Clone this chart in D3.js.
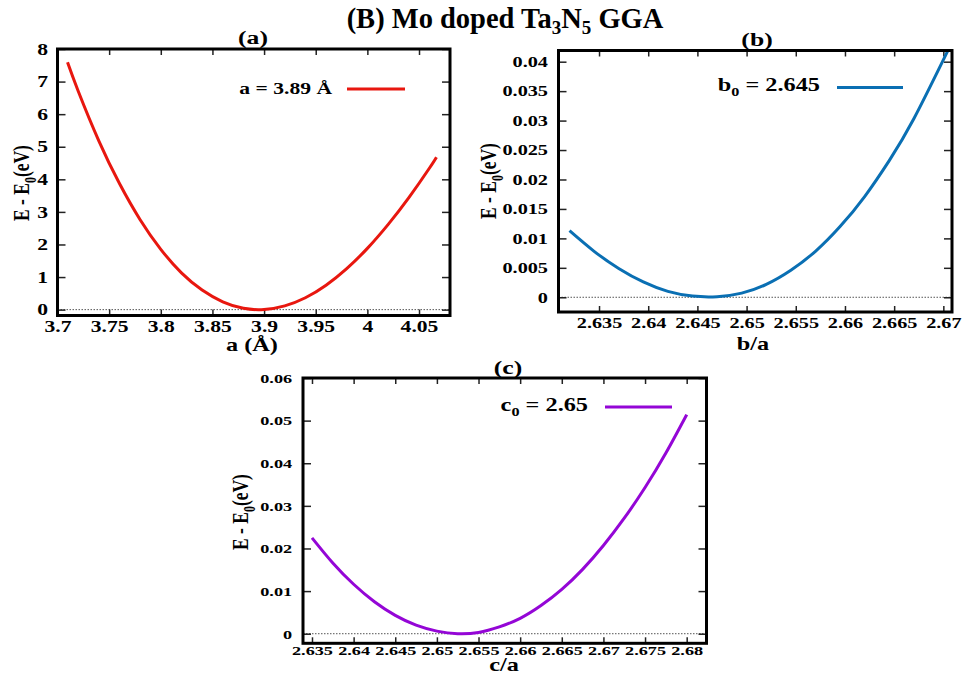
<!DOCTYPE html>
<html>
<head>
<meta charset="utf-8">
<script src="https://cdn.jsdelivr.net/npm/d3@7"></script>
<style>
  body { margin: 0; background: #fff; }
  text { font-family: "Liberation Serif", "Times New Roman", serif; font-weight: bold; fill: #000; }
</style>
</head>
<body>
<svg id="chart" width="966" height="677"></svg>
<script>
// values
const aX = [3.7097, 3.72, 3.74, 3.76, 3.78, 3.80, 3.82, 3.84, 3.86, 3.88, 3.90, 3.92, 3.94, 3.96, 3.98, 4.00, 4.02, 4.04, 4.06, 4.0669];
const aE = [7.59, 6.71, 5.18, 3.87, 2.76, 1.85, 1.13, 0.60, 0.24, 0.04, 0.005, 0.115, 0.365, 0.75, 1.26, 1.88, 2.61, 3.43, 4.34, 4.68];

const bX = [2.6320, 2.6345, 2.6370, 2.6395, 2.6420, 2.6445, 2.6470, 2.6495, 2.6520, 2.6545, 2.6570, 2.6595, 2.6620, 2.6645, 2.6670, 2.6705];
const bE = [0.0113, 0.0078, 0.0049, 0.0026, 0.0010, 0.0002, 0.0001, 0.0007, 0.0022, 0.0046, 0.0078, 0.0120, 0.0171, 0.0232, 0.0303, 0.0420];

const cX = [2.6350, 2.6375, 2.6400, 2.6425, 2.6450, 2.6475, 2.6500, 2.6525, 2.6550, 2.6575, 2.6600, 2.6625, 2.6650, 2.6675, 2.6700, 2.6725, 2.6750, 2.6775, 2.6800];
const cE = [0.0225, 0.0166, 0.0116, 0.0075, 0.0043, 0.0020, 0.0006, 0.0000, 0.0003, 0.0016, 0.0036, 0.0066, 0.0104, 0.0151, 0.0207, 0.0271, 0.0343, 0.0424, 0.0514];

const aXTicks = [3.7, 3.75, 3.8, 3.85, 3.9, 3.95, 4, 4.05];
const aYTicks = [0, 1, 2, 3, 4, 5, 6, 7, 8];
const bXTicks = [2.635, 2.64, 2.645, 2.65, 2.655, 2.66, 2.665, 2.67];
const bYTicks = [0, 0.005, 0.01, 0.015, 0.02, 0.025, 0.03, 0.035, 0.04];
const cXTicks = [2.635, 2.64, 2.645, 2.65, 2.655, 2.66, 2.665, 2.67, 2.675, 2.68];
const cYTicks = [0, 0.01, 0.02, 0.03, 0.04, 0.05, 0.06];

const SX = 1.35; // gnuplot panels look stretched sideways

const svg = d3.select("#chart");

// title
let title = svg.append("text")
    .attr("x", 505).attr("y", 28)
    .attr("text-anchor", "middle")
    .style("font-size", "28.5px");
title.append("tspan").text("(B) Mo doped Ta");
title.append("tspan").attr("dy", 6).style("font-size", "19px").text("3");
title.append("tspan").attr("dy", -6).text("N");
title.append("tspan").attr("dy", 6).style("font-size", "19px").text("5");
title.append("tspan").attr("dy", -6).text(" GGA");

let panels = [
    {
        xs: aX, ys: aE, color: "#e8170f",
        left: 57.5, right: 450, top: 49, bottom: 315.5,
        xDomain: [3.7, 4.08], yDomain: [-0.18, 8],
        xTicks: aXTicks, yTicks: aYTicks,
        fs: 16, xPad: 5, yPad: 7,
        tag: "(a)", tagX: 253, tagY: 44,
        xLabel: "a  (Å)", xLabelX: 252, xLabelY: 351,
        yLabelX: 29, yLabelY: 183,
        legend: ["a = 3.89 Å", null], legX: 332, legY: 94, legLine: [347, 405], legLineY: 89
    },
    {
        xs: bX, ys: bE, color: "#0a6fb3",
        left: 558.5, right: 952, top: 50.5, bottom: 312,
        xDomain: [2.63088, 2.67088], yDomain: [-0.0025, 0.0419],
        xTicks: bXTicks, yTicks: bYTicks,
        fs: 15, xPad: 5.4, yPad: 7.8,
        tag: "(b)", tagX: 757, tagY: 46,
        xLabel: "b/a", xLabelX: 753, xLabelY: 350,
        yLabelX: 496, yLabelY: 181,
        legend: ["b", "0", " = 2.645"], legX: 820, legY: 91, legLine: [837, 903], legLineY: 87.5
    },
    {
        xs: cX, ys: cE, color: "#9406d6",
        left: 303, right: 706.5, top: 378, bottom: 643.3,
        xDomain: [2.63392, 2.68238], yDomain: [-0.00225, 0.06],
        xTicks: cXTicks, yTicks: cYTicks,
        fs: 13.5, xPad: 2.5, yPad: 8.1,
        tag: "(c)", tagX: 508, tagY: 374,
        xLabel: "c/a", xLabelX: 504, xLabelY: 671,
        yLabelX: 248, yLabelY: 512,
        legend: ["c", "0", " = 2.65"], legX: 588, legY: 411, legLine: [605, 672], legLineY: 407
    }
];

panels.forEach(function(p) {
    let x = d3.scaleLinear().domain(p.xDomain).range([p.left, p.right]);
    let y = d3.scaleLinear().domain(p.yDomain).range([p.bottom, p.top]);
    let g = svg.append("g");

    // dotted zero line
    g.append("line")
        .attr("x1", p.left).attr("x2", p.right)
        .attr("y1", y(0)).attr("y2", y(0))
        .attr("stroke", "#555")
        .attr("stroke-width", 1)
        .attr("stroke-dasharray", "1.5,1.5");

    let fmt = d => String(d);

    // bottom + left with labels, top + right mirrored ticks only
    let bottomAxis = g.append("g")
        .attr("transform", "translate(0," + p.bottom + ")")
        .call(d3.axisBottom(x).tickValues(p.xTicks).tickSizeInner(-6).tickSizeOuter(0).tickPadding(p.xPad).tickFormat(fmt));
    let leftAxis = g.append("g")
        .attr("transform", "translate(" + p.left + ",0)")
        .call(d3.axisLeft(y).tickValues(p.yTicks).tickSizeInner(-8).tickSizeOuter(0).tickPadding(p.yPad).tickFormat(fmt));
    let topAxis = g.append("g")
        .attr("transform", "translate(0," + p.top + ")")
        .call(d3.axisTop(x).tickValues(p.xTicks).tickSizeInner(-6).tickSizeOuter(0).tickFormat(""));
    let rightAxis = g.append("g")
        .attr("transform", "translate(" + p.right + ",0)")
        .call(d3.axisRight(y).tickValues(p.yTicks).tickSizeInner(-8).tickSizeOuter(0).tickFormat(""));

    [bottomAxis, leftAxis, topAxis, rightAxis].forEach(function(ax) {
        ax.attr("font-family", null).attr("font-size", null);
        ax.select(".domain").remove();
        ax.selectAll(".tick line").attr("stroke", "#222").attr("stroke-width", 1.5);
    });
    topAxis.selectAll(".tick text").remove();
    rightAxis.selectAll(".tick text").remove();
    [bottomAxis, leftAxis].forEach(function(ax) {
        ax.selectAll(".tick text")
            .style("font-size", p.fs + "px")
            .attr("fill", "#000")
            .attr("transform", "scale(" + SX + ",1)");
    });

    // curve
    let line = d3.line()
        .x(d => x(d[0]))
        .y(d => y(d[1]))
        .curve(d3.curveNatural);
    g.append("path")
        .datum(p.xs.map((v, i) => [v, p.ys[i]]))
        .attr("d", line)
        .attr("fill", "none")
        .attr("stroke", p.color)
        .attr("stroke-width", 3);

    // frame
    g.append("rect")
        .attr("x", p.left).attr("y", p.top)
        .attr("width", p.right - p.left).attr("height", p.bottom - p.top)
        .attr("fill", "none")
        .attr("stroke", "#000")
        .attr("stroke-width", 3);

    // panel tag
    g.append("text")
        .attr("transform", "translate(" + p.tagX + "," + p.tagY + ") scale(" + SX + ",1)")
        .attr("text-anchor", "middle")
        .style("font-size", "19px")
        .text(p.tag);

    // x label
    g.append("text")
        .attr("transform", "translate(" + p.xLabelX + "," + p.xLabelY + ") scale(" + SX + ",1)")
        .attr("text-anchor", "middle")
        .style("font-size", "18px")
        .text(p.xLabel);

    // y label
    let yl = g.append("text")
        .attr("transform", "translate(" + p.yLabelX + "," + p.yLabelY + ") scale(" + SX + ",1) rotate(-90)")
        .attr("text-anchor", "middle")
        .style("font-size", "17.5px");
    yl.append("tspan").text("E - E");
    yl.append("tspan").attr("dy", 5).style("font-size", "12px").text("0");
    yl.append("tspan").attr("dy", -5).text("(eV)");

    // legend
    let lt = g.append("text")
        .attr("transform", "translate(" + p.legX + "," + p.legY + ") scale(" + SX + ",1)")
        .attr("text-anchor", "end")
        .style("font-size", (p.legend[1] ? 18 : 16) + "px");
    if (p.legend[1]) {
        lt.append("tspan").text(p.legend[0]);
        lt.append("tspan").attr("dy", 5).style("font-size", "12px").text(p.legend[1]);
        lt.append("tspan").attr("dy", -5).text(p.legend[2]);
    } else {
        lt.text(p.legend[0]);
    }
    g.append("line")
        .attr("x1", p.legLine[0]).attr("x2", p.legLine[1])
        .attr("y1", p.legLineY).attr("y2", p.legLineY)
        .attr("stroke", p.color)
        .attr("stroke-width", 3);
});
</script>
</body>
</html>
